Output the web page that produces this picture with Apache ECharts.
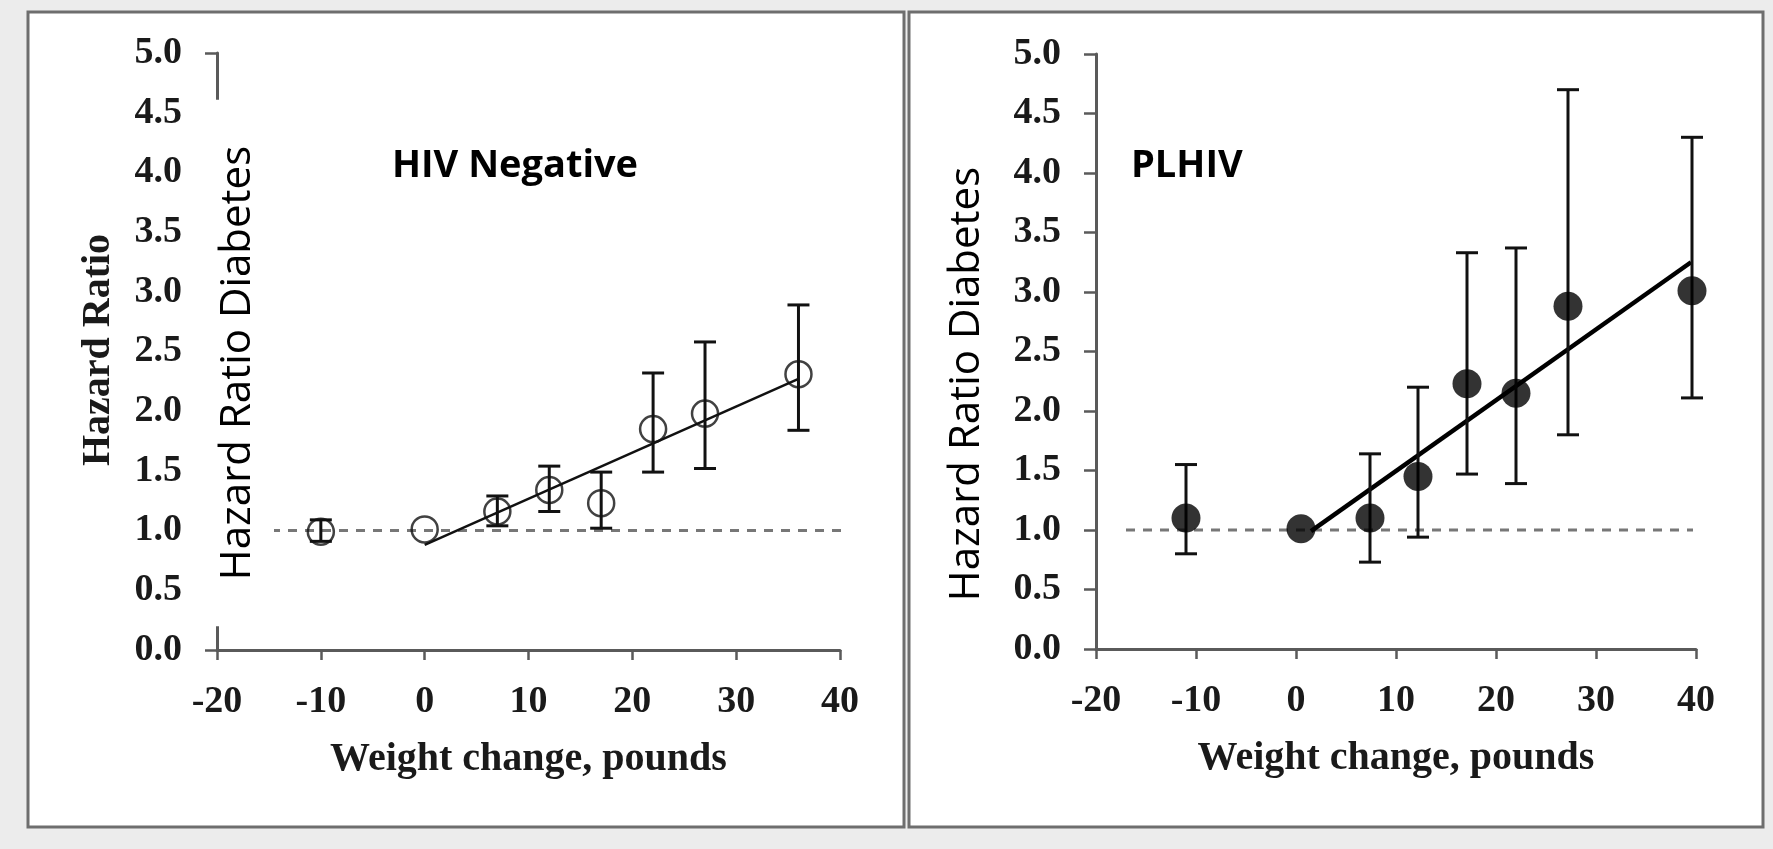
<!DOCTYPE html>
<html>
<head>
<meta charset="utf-8">
<script src="https://cdn.jsdelivr.net/npm/echarts@6/dist/echarts.min.js"></script>
<style>
html,body{margin:0;padding:0;background:#ececec;}
#main{width:1773px;height:849px;}
</style>
</head>
<body>
<div id="main"></div>
<script>
// HIV negative panel
var hivNegX = [-10, 0, 7, 12, 17, 22, 27, 36];
var hivNegHR = [0.99, 1.01, 1.16, 1.34, 1.23, 1.85, 1.98, 2.31];
var hivNegLow = [0.91, null, 1.04, 1.16, 1.02, 1.49, 1.52, 1.84];
var hivNegHigh = [1.09, null, 1.29, 1.54, 1.49, 2.32, 2.58, 2.89];
var hivNegTrend = [[0, 0.88], [36, 2.27]];
var hivNegRef = [[-14.8, 1], [40.2, 1]];

// PLHIV panel
var plhivX = [-11, 0.5, 7.4, 12.2, 17.1, 22, 27.2, 39.6];
var plhivHR = [1.10, 1.01, 1.10, 1.45, 2.23, 2.15, 2.88, 3.01];
var plhivLow = [0.80, null, 0.73, 0.94, 1.47, 1.39, 1.80, 2.11];
var plhivHigh = [1.55, null, 1.64, 2.20, 3.33, 3.37, 4.70, 4.30];
var plhivTrend = [[1.5, 0.99], [39.5, 3.25]];
var plhivRef = [[-17, 1], [39.7, 1]];

var xTicks = {min: -20, max: 40, interval: 10};
var yTicks = {min: 0, max: 5, interval: 0.5};

function points(xs, ys) {
	var out = [];
	for (var i = 0; i < xs.length; i++) out.push([xs[i], ys[i]]);
	return out;
}
function bars(xs, lo, hi) {
	var out = [];
	for (var i = 0; i < xs.length; i++) {
		if (lo[i] == null) continue;
		out.push([xs[i], lo[i], hi[i]]);
	}
	return out;
}

function renderBar(params, api) {
	var lo = api.coord([api.value(0), api.value(1)]);
	var hi = api.coord([api.value(0), api.value(2)]);
	var w = 11;
	var style = {stroke: '#111', lineWidth: 3};
	return {
		type: 'group',
		children: [
			{type: 'line', shape: {x1: lo[0], y1: lo[1], x2: hi[0], y2: hi[1]}, style: style},
			{type: 'line', shape: {x1: hi[0] - w, y1: hi[1], x2: hi[0] + w, y2: hi[1]}, style: style},
			{type: 'line', shape: {x1: lo[0] - w, y1: lo[1], x2: lo[0] + w, y2: lo[1]}, style: style}
		]
	};
}

var tickFont = {fontFamily: 'Liberation Serif', fontWeight: 'bold', fontSize: 38, color: '#1a1a1a'};

function makeX(idx) {
	return {
		type: 'value', gridIndex: idx,
		min: xTicks.min, max: xTicks.max, interval: xTicks.interval,
		name: 'Weight change, pounds', nameLocation: 'middle', nameGap: 90,
		nameTextStyle: {fontFamily: 'Liberation Serif', fontWeight: 'bold', fontSize: 40, color: '#1a1a1a'},
		axisLine: {onZero: false, lineStyle: {color: '#5a5a5a', width: 3}},
		axisTick: {length: 10, lineStyle: {color: '#5a5a5a', width: 2.5}},
		axisLabel: Object.assign({margin: 33}, tickFont),
		splitLine: {show: false}
	};
}
function makeY(idx) {
	return {
		type: 'value', gridIndex: idx,
		min: yTicks.min, max: yTicks.max, interval: yTicks.interval,
		axisLine: {show: true, onZero: false, lineStyle: {color: '#5a5a5a', width: 3}},
		axisTick: {show: true, length: 12, lineStyle: {color: '#5a5a5a', width: 2.5}},
		axisLabel: Object.assign({margin: 35, formatter: function (v) { return v.toFixed(1); }}, tickFont),
		splitLine: {show: false}
	};
}

var myChart = echarts.init(document.getElementById('main'));
var option = {
	backgroundColor: '#ececec',
	animation: false,
	grid: [
		{left: 217, top: 53, width: 623, height: 597},
		{left: 1096, top: 54, width: 600, height: 595}
	],
	xAxis: [makeX(0), makeX(1)],
	yAxis: [makeY(0), makeY(1)],
	graphic: [
		{type: 'rect', z: -10, shape: {x: 28, y: 12, width: 876, height: 815},
			style: {fill: '#fff', stroke: '#6e6e6e', lineWidth: 3}},
		{type: 'rect', z: -10, shape: {x: 909, y: 12, width: 854, height: 815},
			style: {fill: '#fff', stroke: '#6e6e6e', lineWidth: 3}},
		{type: 'text', z: 50, x: 99, y: 350, rotation: Math.PI / 2,
			style: {text: 'Hazard Ratio', align: 'center', verticalAlign: 'middle',
				font: 'bold 40px "Liberation Serif"', fill: '#1a1a1a'}},
		{type: 'text', z: 50, x: 238, y: 363, rotation: Math.PI / 2,
			style: {text: 'Hazard Ratio Diabetes', align: 'center', verticalAlign: 'middle',
				font: '42px "Open Sans"', fill: '#000', backgroundColor: '#fff', padding: [28, 46, 2, 46]}},
		{type: 'text', z: 50, x: 967, y: 384, rotation: Math.PI / 2,
			style: {text: 'Hazard Ratio Diabetes', align: 'center', verticalAlign: 'middle',
				font: '42px "Open Sans"', fill: '#000'}},
		{type: 'text', z: 50, x: 515, y: 166,
			style: {text: 'HIV Negative', align: 'center', verticalAlign: 'middle',
				font: 'bold 38px "Open Sans"', fill: '#000'}},
		{type: 'text', z: 50, x: 1131, y: 166,
			style: {text: 'PLHIV', align: 'left', verticalAlign: 'middle',
				font: 'bold 38px "Open Sans"', fill: '#000'}}
	],
	series: [
		{type: 'line', xAxisIndex: 0, yAxisIndex: 0, data: hivNegRef, symbol: 'none', z: 1,
			lineStyle: {color: '#777', width: 3, type: [9, 8]}},
		{type: 'line', xAxisIndex: 0, yAxisIndex: 0, data: hivNegTrend, symbol: 'none', z: 2,
			lineStyle: {color: '#111', width: 2.5}},
		{type: 'custom', xAxisIndex: 0, yAxisIndex: 0, data: bars(hivNegX, hivNegLow, hivNegHigh),
			renderItem: renderBar, z: 3},
		{type: 'scatter', xAxisIndex: 0, yAxisIndex: 0, data: points(hivNegX, hivNegHR), z: 4,
			symbol: 'circle', symbolSize: 26,
			itemStyle: {color: 'rgba(0,0,0,0)', borderColor: '#111', borderWidth: 2.5}},

		{type: 'line', xAxisIndex: 1, yAxisIndex: 1, data: plhivRef, symbol: 'none', z: 1,
			lineStyle: {color: '#777', width: 3, type: [9, 8]}},
		{type: 'line', xAxisIndex: 1, yAxisIndex: 1, data: plhivTrend, symbol: 'none', z: 2,
			lineStyle: {color: '#000', width: 4.5}},
		{type: 'custom', xAxisIndex: 1, yAxisIndex: 1, data: bars(plhivX, plhivLow, plhivHigh),
			renderItem: renderBar, z: 3},
		{type: 'scatter', xAxisIndex: 1, yAxisIndex: 1, data: points(plhivX, plhivHR), z: 4,
			symbol: 'circle', symbolSize: 29,
			itemStyle: {color: '#000'}}
	]
};
myChart.setOption(option);
</script>
</body>
</html>
